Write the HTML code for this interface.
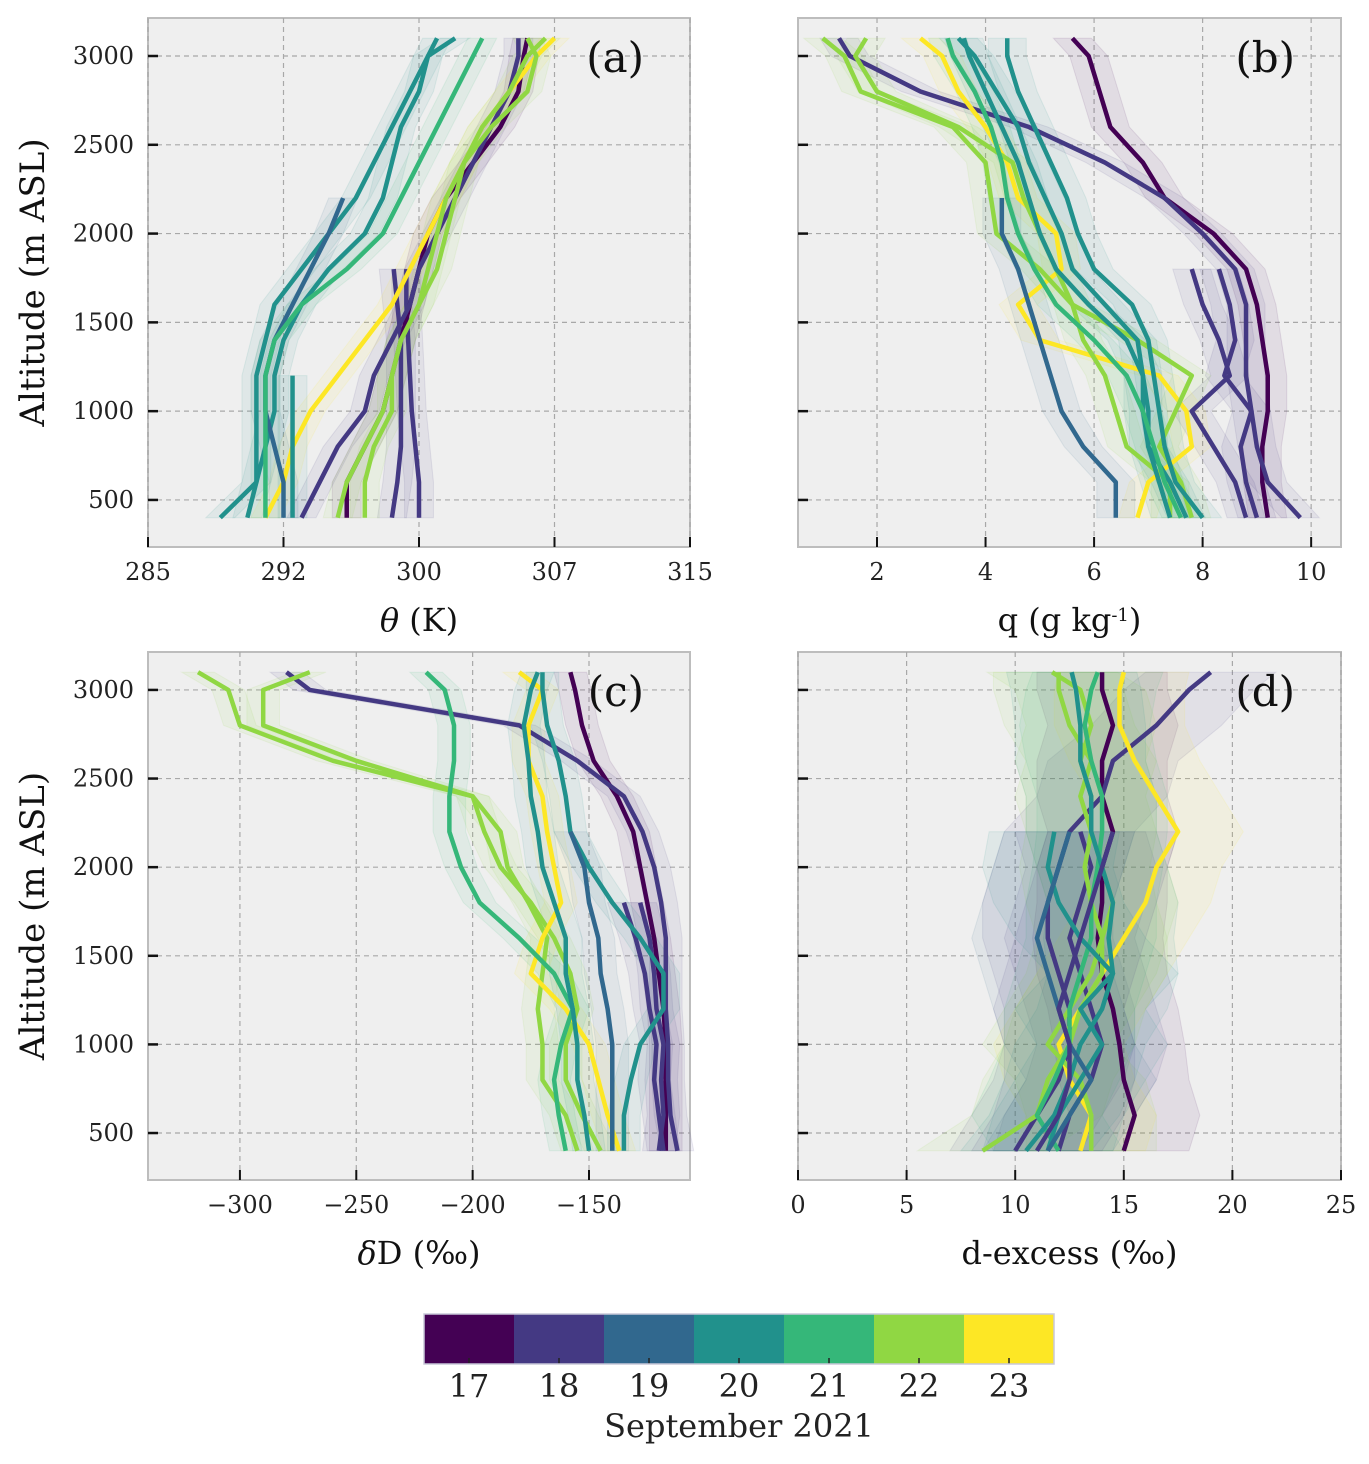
<!DOCTYPE html>
<html><head><meta charset="utf-8"><style>
body{margin:0;background:#fff;}
svg{display:block;font-family:"DejaVu Serif","Liberation Serif",serif;}
</style></head><body>
<svg id="fig" width="1369" height="1464" viewBox="0 0 1369 1464" xmlns="http://www.w3.org/2000/svg"></svg>
<script>
const colors=["#440154","#443983","#31688e","#21918c","#35b779","#90d743","#fde725"];
const dayLabels=["17","18","19","20","21","22","23"];
const alts=[400,600,800,1000,1200,1400,1600,1800,2000,2200,2400,2600,2800,3000,3100];
const yTicks=[500,1000,1500,2000,2500,3000];
const N=null;
// panel a: theta
const aDays=[1,1,0,1,6,5,5,3,3,3,2,4];
const aVals=[
[300,300,299.8,299.6,299.5,299.4,299.3,299.3,N,N,N,N,N,N,N],
[298.5,298.8,299,299,299,299,298.8,298.6,N,N,N,N,N,N,N],
[296,296,297,298,298.5,299,299.5,300,300.5,301.5,303,304.5,305.5,305.8,306],
[293.5,294.5,295.5,297,297.5,298.5,299.5,300,301,302,303,304,305,305.5,305.5],
[291.5,292.5,293,294,295.5,297,298.5,299.5,300.5,301.5,302.5,303.5,305,306.5,307.5],
[297,297,297.5,298.5,298.5,299,300,301,301.5,302,302.5,303.5,305,306,307],
[295.5,296,297,298,298.5,299,300,300.5,301,301.5,302.5,304,306,306.5,306],
[290.5,291,291.5,292,292,292.5,293.5,295,297,298,298.5,299,300,300.5,301],
[289,291,291,291,291,291.5,292,293.5,295,296.5,297.5,298.5,299.5,300.5,302],
[293,293,293,293,293,N,N,N,N,N,N,N,N,N,N],
[292.5,292.5,292,291.5,291.5,292,293,294,295,295.8,N,N,N,N,N],
[291.5,291.5,291.5,291.5,291.5,292,293.5,296,298,299,300,301,302,303,303.5]];
// panel b: q
const bDays=[0,1,1,1,6,5,5,3,3,2,3,4];
const bVals=[
[9.2,9.1,9.1,9.2,9.2,9.1,9.0,8.8,8.2,7.3,6.9,6.3,6.1,5.9,5.6],
[9.8,9.2,9.0,8.9,8.8,8.8,8.8,8.6,8.0,7.3,6.2,4.8,2.8,1.5,1.3],
[8.8,8.6,8.2,7.8,8.5,8.3,8.0,7.8,N,N,N,N,N,N,N],
[9.0,8.8,8.7,8.9,8.4,8.6,8.5,8.3,N,N,N,N,N,N,N],
[6.8,7.0,7.8,7.7,7.2,5.0,4.6,5.4,5.3,4.6,4.4,4.0,3.5,3.2,2.8],
[7.8,7.6,7.2,7.5,7.8,6.8,5.6,5.0,4.2,4.1,4.0,3.4,1.7,1.4,1.0],
[7.4,7.4,6.6,6.4,6.2,5.8,5.6,5.3,5.0,4.7,4.5,3.5,2.0,1.6,1.8],
[7.7,7.4,7.0,7.0,6.9,6.8,6.2,5.6,5.4,5.1,4.8,4.6,4.2,3.8,3.5],
[7.4,7.2,7.0,6.9,6.9,6.6,5.9,5.3,5.0,4.8,4.6,4.3,4.0,3.7,3.6],
[6.4,6.4,5.8,5.4,5.2,5.0,4.8,4.6,4.3,4.3,N,N,N,N,N],
[8.0,7.5,7.3,7.2,7.1,7.0,6.7,6.0,5.7,5.5,5.2,4.9,4.6,4.4,4.4],
[7.6,7.3,7.1,6.9,6.6,6.0,5.3,4.9,4.6,4.4,4.3,4.1,3.8,3.4,3.3]];
// panel c: dD
const cDays=[0,1,1,1,5,5,6,4,3,2,3];
const cVals=[
[-117,-117,-117,-117,-118,-120,-122,-125,-128,-131,-138,-148,-153,-156,-158],
[-112,-115,-116,-116,-117,-117,-117,-119,-122,-127,-135,-155,-180,-270,-280],
[-118,-120,-122,-121,-124,-126,-130,-135,N,N,N,N,N,N,N],
[-120,-118,-119,-118,-121,-122,-124,-128,N,N,N,N,N,N,N],
[-145,-153,-160,-160,-155,-158,-165,-175,-188,-195,-200,-260,-300,-305,-318],
[-155,-160,-170,-170,-172,-170,-168,-176,-185,-188,-200,-250,-290,-290,-270],
[-137,-142,-146,-150,-160,-175,-170,-162,-165,-168,-170,-176,-176,-170,-180],
[-160,-163,-165,-162,-157,-165,-180,-197,-205,-210,-210,-208,-208,-212,-220],
[-135,-135,-132,-128,-118,-118,-128,-140,-150,-158,-160,-163,-168,-170,-170],
[-140,-140,-140,-140,-142,-145,-146,-150,-152,-158,N,N,N,N,N],
[-150,-152,-155,-155,-157,-160,-160,-165,-170,-172,-175,-176,-178,-175,-172]];
// panel d: d-excess
const dDays=[0,1,1,6,5,5,4,3,3,2,1];
const dVals=[
[15,15.5,15,14.8,14.5,14,13.8,14,14,14.5,14,14,14.5,14,14],
[10,11,12,12.5,12.5,12,11.5,11.5,12,12.5,14,14.5,16.5,18,19],
[12,12.5,13.5,14,13.5,13,12.5,13,13.5,13,N,N,N,N,N],
[13,13.5,12.5,12,13,14,15,16,16.5,17.5,16.5,15.5,14.8,14.8,15],
[8.5,11,11.5,12.5,13,14,14,13.5,13.2,13.5,13,13.5,12.5,12,12],
[13.5,13.5,13,11.5,12.5,13.5,14,14.5,14,13.5,13.5,13,13.5,13,11.7],
[12,11,11.8,12.5,12.5,13,13.5,13.5,13.8,14,14,13.5,13.2,13.5,13.8],
[10.5,11.8,12.5,13,14,14.5,13,12,11.5,11.8,N,N,N,N,N],
[11.5,12,13,14,13,14.5,14.3,14.5,14,13.5,13.5,13,13,12.8,12.6],
[11.5,12.5,13.5,12.5,12,11.5,11,11.5,12,12.5,N,N,N,N,N],
[11,12,12.5,12.5,12,12.5,13,13.5,14,14.5,N,N,N,N,N]];

const svg=document.getElementById('fig');
const NS="http://www.w3.org/2000/svg";
function mk(tag,attrs,parent){const e=document.createElementNS(NS,tag);for(const k in attrs)e.setAttribute(k,attrs[k]);(parent||svg).appendChild(e);return e;}
function txt(s,attrs,parent){const e=mk('text',attrs,parent);e.textContent=s;return e;}

function panel(cfg){
  const {x0,y0,w,h,xmin,xmax,xticks,xlabels,days,vals,band,letter,xlabel,showY,name}=cfg;
  const ymin=235,ymax=3214;
  const X=v=>x0+(v-xmin)/(xmax-xmin)*w;
  const Y=a=>y0+h-(a-ymin)/(ymax-ymin)*h;
  const g=mk('g',{});
  
  
  const bg=mk('rect',{x:x0,y:y0,width:w,height:h,fill:'#efefef',stroke:'#bdbdbd','stroke-width':2},g);
  
  xticks.forEach((t,i)=>{
    const x=X(t);
    const gl=mk('line',{x1:x,x2:x,y1:y0,y2:y0+h,stroke:'#a8a8a8','stroke-width':1.2,'stroke-dasharray':'5,4'},g);
    
    mk('line',{x1:x,x2:x,y1:y0+h,y2:y0+h-10,stroke:'#111','stroke-width':2},g);
    const tl=txt(xlabels[i],{x:x,y:y0+h+33,'font-size':24,'text-anchor':'middle',fill:'#222'},g);
    
  });
  yTicks.forEach(t=>{
    const y=Y(t);
    const gl=mk('line',{x1:x0,x2:x0+w,y1:y,y2:y,stroke:'#a8a8a8','stroke-width':1.2,'stroke-dasharray':'5,4'},g);
    
    mk('line',{x1:x0,x2:x0+10,y1:y,y2:y,stroke:'#111','stroke-width':2.5},g);
    if(showY){const tl=txt(String(t),{x:x0-14,y:y+8,'font-size':24,'text-anchor':'end',fill:'#222'},g);
      }
  });
  vals.forEach((v,i)=>{
    const pts=[];alts.forEach((a,j)=>{if(v[j]!==null)pts.push([a,v[j]]);});
    const L=pts.map(p=>X(p[1]-band)+','+Y(p[0]));
    const R=pts.slice().reverse().map(p=>X(p[1]+band)+','+Y(p[0]));
    const b=mk('polygon',{points:L.concat(R).join(' '),fill:colors[days[i]],'fill-opacity':0.08,stroke:colors[days[i]],'stroke-opacity':0.1},g);
    
  });
  vals.forEach((v,i)=>{
    const pts=[];alts.forEach((a,j)=>{if(v[j]!==null)pts.push(X(v[j])+','+Y(a));});
    const l=mk('polyline',{points:pts.join(' '),fill:'none',stroke:colors[days[i]],'stroke-width':4.5,'stroke-linejoin':'round'},g);
    
  });
  const lt=txt(letter,{x:x0+w-46,y:y0+54,'font-size':42,'text-anchor':'end',fill:'#111'},g);
  
  const xl=mk('text',{x:x0+w/2,y:y0+h+84,'font-size':32,'text-anchor':'middle',fill:'#111'},g);
  xl.innerHTML=xlabel;
  
  if(showY){const yl=txt('Altitude (m ASL)',{x:0,y:0,'font-size':34,'text-anchor':'middle',fill:'#111',transform:`translate(44,${y0+h/2}) rotate(-90)`},g);
    }
}
panel({name:'panel-a-theta',x0:148,y0:18,w:542,h:529,xmin:285,xmax:315,xticks:[285,292.5,300,307.5,315],xlabels:['285','292','300','307','315'],days:aDays,vals:aVals,band:0.8,letter:'(a)',xlabel:'<tspan font-style="italic">θ</tspan> (K)',showY:true});
panel({name:'panel-b-q',x0:798,y0:18,w:543,h:529,xmin:0.544,xmax:10.55,xticks:[2,4,6,8,10],xlabels:['2','4','6','8','10'],days:bDays,vals:bVals,band:0.35,letter:'(b)',xlabel:'q (g kg<tspan baseline-shift="super" font-size="18">-1</tspan>)',showY:false});
panel({name:'panel-c-dD',x0:148,y0:652,w:542,h:528,xmin:-339.5,xmax:-106.6,xticks:[-300,-250,-200,-150],xlabels:['−300','−250','−200','−150'],days:cDays,vals:cVals,band:7,letter:'(c)',xlabel:'<tspan font-style="italic">δ</tspan>D (‰)',showY:true});
panel({name:'panel-d-dexcess',x0:798,y0:652,w:543,h:528,xmin:0,xmax:25,xticks:[0,5,10,15,20,25],xlabels:['0','5','10','15','20','25'],days:dDays,vals:dVals,band:3,letter:'(d)',xlabel:'d-excess (‰)',showY:false});
const cb=mk('g',{});


const cw=(1054-424)/7;
dayLabels.forEach((d,i)=>{
  const r=mk('rect',{x:424+i*cw,y:1314,width:cw+0.5,height:50,fill:colors[i]},cb);
  
  mk('line',{x1:424+(i+0.5)*cw,x2:424+(i+0.5)*cw,y1:1364,y2:1358,stroke:'#222','stroke-width':1.5},cb);
  const t=txt(d,{x:424+(i+0.5)*cw,y:1397,'font-size':32,'text-anchor':'middle',fill:'#222'},cb);
  
});
mk('rect',{x:424,y:1314,width:630,height:50,fill:'none',stroke:'#c8c8d8','stroke-width':1.5},cb);
const ct=txt('September 2021',{x:739,y:1437,'font-size':32,'text-anchor':'middle',fill:'#222'},cb);

</script>
</body></html>
